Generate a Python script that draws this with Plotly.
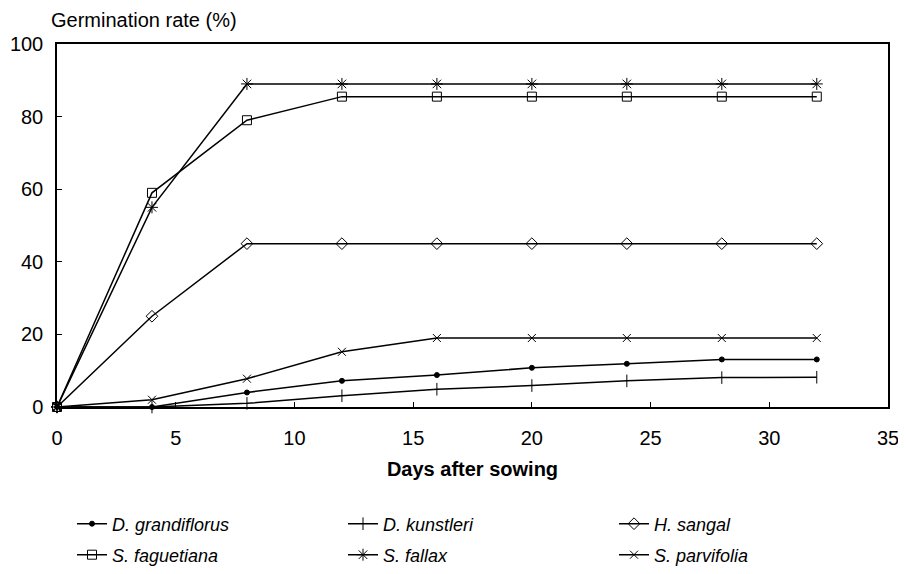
import plotly.graph_objects as go

days = [0, 4, 8, 12, 16, 20, 24, 28, 32]

d_grandiflorus = [0, 0, 4, 7.2, 8.8, 10.8, 11.9, 13.1, 13.1]
d_kunstleri = [0, 0, 1.0, 3.1, 4.9, 5.9, 7.2, 8.1, 8.2]
h_sangal = [0, 25, 45, 45, 45, 45, 45, 45, 45]
s_faguetiana = [0, 59, 79, 85.5, 85.5, 85.5, 85.5, 85.5, 85.5]
s_fallax = [0, 55, 89, 89, 89, 89, 89, 89, 89]
s_parvifolia = [0, 2, 7.8, 15.2, 19, 19, 19, 19, 19]

x_ticks = [0, 5, 10, 15, 20, 25, 30, 35]
y_ticks = [0, 20, 40, 60, 80, 100]

series = [
    ("D. grandiflorus", d_grandiflorus, "circle", 5, "legend"),
    ("D. kunstleri", d_kunstleri, "line-ns-open", 9, "legend"),
    ("H. sangal", h_sangal, "diamond-open", 9, "legend"),
    ("S. faguetiana", s_faguetiana, "square-open", 9, "legend2"),
    ("S. fallax", s_fallax, "asterisk-open", 10, "legend2"),
    ("S. parvifolia", s_parvifolia, "x-thin-open", 8, "legend2"),
]

fig = go.Figure()
for name, vals, sym, size, leg in series:
    fig.add_trace(go.Scatter(
        x=days, y=vals, name="<i>" + name + "</i>", mode="lines+markers",
        line=dict(color="black", width=1.5),
        marker=dict(symbol=sym, size=size, color="black",
                    line=dict(color="black", width=1)),
        cliponaxis=False, legend=leg,
    ))

font_main = "Liberation Sans, Arial, sans-serif"

# page body has an 8px margin: figure sized so the page does not overflow,
# figure coords = screen coords - 8
W, H = 890, 558
fig.update_layout(
    width=W, height=H,
    margin=dict(l=49, r=10, t=36, b=159),
    paper_bgcolor="white", plot_bgcolor="white",
    font=dict(family=font_main, color="black"),
    xaxis=dict(
        range=[0, 35], tickvals=x_ticks, ticktext=[str(v) for v in x_ticks],
        showgrid=False, zeroline=False, automargin=False,
        showline=True, linecolor="black", linewidth=1.5, mirror=True,
        ticks="inside", ticklen=5, tickcolor="black",
        tickfont=dict(size=20), ticklabelstandoff=12,
        ticklabeloverflow="allow",
        title=dict(text="<b>Days after sowing</b>", font=dict(size=20), standoff=14),
    ),
    yaxis=dict(
        range=[0, 100], tickvals=y_ticks, ticktext=[str(v) for v in y_ticks],
        showgrid=False, zeroline=False, automargin=False,
        showline=True, linecolor="black", linewidth=1.5, mirror=True,
        ticks="inside", ticklen=5, tickcolor="black",
        tickfont=dict(size=20), ticklabelstandoff=8,
    ),
    legend=dict(
        orientation="h", xref="container", yref="container",
        x=64 / W, y=1 - 516 / H, xanchor="left", yanchor="middle",
        entrywidth=226, entrywidthmode="pixels",
        font=dict(size=18, family=font_main), bgcolor="rgba(0,0,0,0)",
        itemclick=False, itemdoubleclick=False,
    ),
    legend2=dict(
        orientation="h", xref="container", yref="container",
        x=64 / W, y=1 - 547 / H, xanchor="left", yanchor="middle",
        entrywidth=226, entrywidthmode="pixels",
        font=dict(size=18, family=font_main), bgcolor="rgba(0,0,0,0)",
        itemclick=False, itemdoubleclick=False,
    ),
    annotations=[dict(
        text="Germination rate (%)", xref="paper", yref="paper",
        x=(41 - 49) / 831, y=1 + (36 - 12) / 363, xanchor="left", yanchor="middle",
        showarrow=False, font=dict(size=20, family=font_main),
    )],
)

fig.write_html("out.html")
